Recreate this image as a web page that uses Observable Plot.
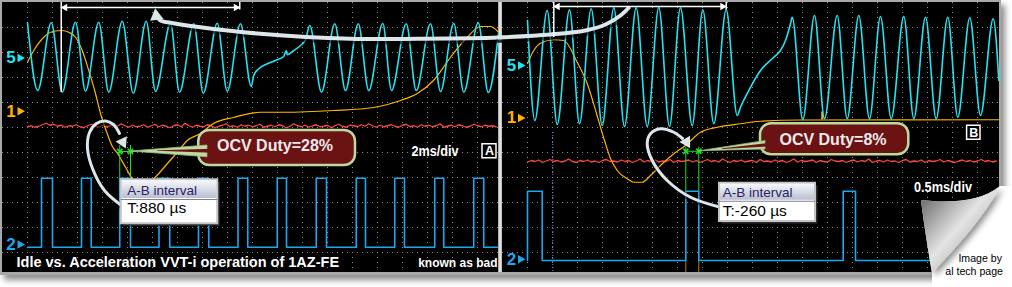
<!DOCTYPE html>
<html><head><meta charset="utf-8">
<script src="https://cdn.jsdelivr.net/npm/d3@7"></script>
<script src="https://cdn.jsdelivr.net/npm/@observablehq/plot@0.6"></script>
<style>
html,body{margin:0;padding:0;background:#fff;}
#fig{position:relative;width:1012px;height:287px;overflow:hidden;background:#fff;}
#frame{position:absolute;left:0;top:0;width:1001px;height:275px;background:#a8a8a8;box-shadow:4px 5px 6px rgba(0,0,0,0.45);}
#divider{position:absolute;left:498px;top:2px;width:4px;height:270px;background:linear-gradient(to right,#9c9c9c,#f2f2f2 50%,#b0b0b0);}
#pA{position:absolute;left:2px;top:2px;width:496px;height:270px;z-index:1;}
#pB{position:absolute;left:502px;top:2px;width:497px;height:270px;z-index:2;}
#curl{position:absolute;left:0;top:0;z-index:3;pointer-events:none;}
</style></head>
<body>
<div id="fig">
<div id="frame"></div><div id="divider"></div>
<div id="pA"></div><div id="pB"></div>
<svg id="curl" width="1012" height="287" viewBox="0 0 1012 287">
 <defs>
  <linearGradient id="curlG" x1="921" y1="200" x2="990" y2="260" gradientUnits="userSpaceOnUse">
   <stop offset="0" stop-color="#6e6e6e"/><stop offset="0.5" stop-color="#e4e4e4"/><stop offset="1" stop-color="#9a9a9a"/>
  </linearGradient>
  <filter id="cs" x="-20%" y="-20%" width="160%" height="160%"><feDropShadow dx="3" dy="3" stdDeviation="3" flood-opacity="0.45"/></filter>
 </defs>
 <path d="M921,200 C945,203 980,203 1000,186 L1012,186 L1012,287 L932,287 L932,273 C929,255 924,225 921,200 Z" fill="#fff"/>
 <path d="M921,200 C945,203 980,203 1000,186 C988,212 958,246 932,273 C929,255 924,225 921,200 Z" fill="url(#curlG)" filter="url(#cs)"/>
 <text x="1002" y="261.5" text-anchor="end" font-family="Arial, 'Liberation Sans', sans-serif" font-size="10.6" fill="#000">Image by</text>
 <text x="1003" y="274.5" text-anchor="end" font-family="Arial, 'Liberation Sans', sans-serif" font-size="10.6" fill="#000">al tech page</text>
</svg>
</div>
<script>
// ===== DATA (time in ms, level in scope grid divisions) =====
// Panel A : 2 ms/div
const cyanA = [[0,9.19],[0.82,6.48],[1.90,9.19],[2.78,6.41],[3.84,9.21],[4.64,6.45],[5.70,9.21],[6.50,6.41],[7.58,9.25],[8.46,6.37],[9.50,9.25],[10.24,6.44],[11.44,9.15],[12.16,6.41],[13.30,9.15],[14.06,6.37],[15.18,9.17],[15.98,6.45],[17.04,9.15],[17.90,6.64],[18.10,7.08],[18.50,7.35],[19.18,7.55],[19.84,7.68],[20.50,7.84],[20.70,8.08],[20.78,7.91],[21.30,8.08],[21.84,8.28],[22.24,8.51],[22.58,9.08],[23.52,6.41],[24.58,9.15],[25.44,6.48],[26.46,9.15],[27.30,6.48],[28.42,9.16],[29.12,6.48],[30.30,9.15],[31.10,6.48],[32.24,9.15],[33.04,6.44],[34.10,9.16],[34.90,6.41],[36.06,9.19],[36.86,6.40],[37.68,8.75]];
const yellowA = [[0,7.61],[0.50,8.08],[1.30,8.61],[2.10,8.85],[2.78,8.88],[3.30,8.81],[3.84,8.61],[4.38,8.08],[4.90,7.28],[5.44,6.36],[5.84,5.56],[6.38,4.76],[6.78,4.25],[7.18,3.98],[7.84,3.41],[8.38,2.95],[9.20,2.60],[10.10,2.95],[11.18,3.55],[12.10,4.08],[12.78,4.48],[13.84,4.76],[14.88,5.16],[16.48,5.40],[18.64,5.61],[20.48,5.61],[24.48,5.68],[27.68,5.80],[29.84,6.08],[31.18,6.36],[32.48,6.88],[33.84,7.81],[35.18,8.61],[36.24,9.04],[37.04,9.04],[37.68,8.81]];
const redAStep = 0.3;
const redA = [5.03,5.07,5.01,5.05,5.11,5.17,5.09,5.13,5.05,5.09,5.01,5.07,5.05,5.11,
5.03,4.99,5.07,5.13,5.05,5.01,5.09,5.03,5.07,5.11,5.05,5.15,5.07,5.01,
5.09,5.03,5.05,5.11,5.01,5.07,5.13,5.03,5.09,5.05,4.99,5.07,5.11,5.03,
5.17,5.07,5.01,5.09,5.05,5.03,5.11,5.07,4.99,5.05,5.09,5.15,5.03,5.07,
5.01,5.11,5.05,5.09,5.03,5.07,5.13,5.01,5.05,5.09,5.03,5.11,5.07,4.99,
5.05,5.15,5.07,5.03,5.09,5.01,5.07,5.11,5.03,5.05,5.09,4.99,5.07,5.13,
5.05,5.01,5.09,5.07,5.03,5.11,5.05,5.15,5.07,5.01,5.09,5.03,5.07,5.11,
5.05,5.01,5.09,5.13,5.03,5.07,5.01,5.11,5.05,5.09,5.03,5.07,5.15,5.01,
5.05,5.09,5.03,5.11,5.07,5.01,5.05,5.13,5.07,5.03,5.09,5.05,5.07,5.03];
const blueRiseA = [1.12,4.32,7.38,10.52,13.68,16.84,19.98,23.10,26.30,29.38,32.58,35.70];
const blueFallA = [2.00,5.10,8.24,11.38,14.50,17.62,20.72,23.92,27.04,30.16,33.30,36.50];
const blueLevelsA = [0.21, 2.97];
const cursorA = [7.38, 8.24];

// Panel B : 0.5 ms/div
const cyanB = [[0,9.28],[0.146,5.28],[0.394,9.68],[0.594,5.12],[0.84,9.71],[1.04,5.15],[1.274,9.75],[1.494,5.08],[1.726,9.79],[1.94,5.04],[2.174,9.79],[2.394,5.04],[2.626,9.80],[2.84,5.04],[3.06,9.79],[3.294,5.08],[3.506,9.71],[3.726,5.15],[3.974,9.71],[4.194,5.48],[4.26,5.81],[4.426,6.48],[4.66,7.28],[4.926,7.81],[5.06,8.08],[5.16,8.48],[5.26,9.15],[5.294,9.41],[5.506,5.31],[5.74,9.48],[5.94,5.35],[6.194,9.48],[6.394,5.35],[6.626,9.48],[6.84,5.35],[7.06,9.44],[7.274,5.35],[7.526,9.44],[7.726,5.35],[7.96,9.41],[8.174,5.35],[8.406,9.41],[8.606,5.41],[8.846,9.39],[9.06,5.48],[9.314,9.35],[9.426,6.88]];
const yellowB = [[0,7.56],[0.126,8.08],[0.26,8.37],[0.526,8.51],[0.726,8.48],[0.994,7.61],[1.194,6.76],[1.38,5.56],[1.54,4.48],[1.66,3.76],[1.794,3.28],[1.994,2.95],[2.126,2.81],[2.294,2.81],[2.46,3.08],[2.66,3.48],[2.926,3.95],[3.16,4.28],[3.46,4.81],[3.794,5.01],[4.26,5.15],[4.66,5.25],[5.46,5.30],[9.44,5.31]];
const redBStep = 0.075;
const redB = [3.62,3.68,3.64,3.70,3.60,3.66,3.72,3.64,3.68,3.62,3.66,3.74,3.64,3.60,
3.68,3.64,3.70,3.62,3.66,3.60,3.68,3.72,3.64,3.66,3.62,3.70,3.64,3.68,
3.60,3.66,3.74,3.62,3.68,3.64,3.70,3.62,3.66,3.64,3.72,3.60,3.68,3.64,
3.66,3.70,3.62,3.68,3.60,3.66,3.72,3.64,3.68,3.62,3.74,3.66,3.60,3.68,
3.64,3.70,3.62,3.66,3.68,3.60,3.72,3.64,3.66,3.62,3.70,3.64,3.68,3.60,
3.66,3.74,3.62,3.68,3.64,3.66,3.70,3.60,3.68,3.64,3.62,3.72,3.66,3.64,
3.68,3.60,3.66,3.70,3.62,3.68,3.64,3.74,3.60,3.66,3.68,3.62,3.70,3.64,
3.66,3.60,3.68,3.72,3.62,3.66,3.64,3.70,3.60,3.68,3.64,3.66,3.72,3.62,
3.68,3.64,3.60,3.66,3.70,3.64,3.68,3.62,3.66,3.72,3.64,3.68,3.62,3.66];
const blueRiseB = [0.0, 3.166, 6.314];
const blueFallB = [0.294, 3.426, 6.56];
const blueLevelsB = [-0.32, 2.45];
const cursorB = [3.166, 3.426];
const triggerB = [0.506];

// labels
const chanNames = ["5", "1", "2"];
const chanLevelsA = [7.78, 5.65, 0.32];
const chanLevelsB = [7.48, 5.38, -0.27];
const dutyLabels = ["OCV Duty=28%", "OCV Duty=8%"];
const intervalLabels = ["T:880 \u00b5s", "T:-260 \u00b5s"];
const scaleLabels = ["2ms/div", "0.5ms/div"];
const panelLetters = ["A", "B"];
const titleText = "Idle vs. Acceleration VVT-i operation of 1AZ-FE";
const noteText = "known as bad";

// ===== STYLE =====
const FONT = "Arial, 'Liberation Sans', Helvetica, sans-serif";
const COL = {cyan:"#22e3f0", yel:"#ffb200", red:"#ff4646", blue:"#1ca7ee", green:"#22e022", grid:"#8e8e8e", arrow:"#dde6ea"};
const CHAN_COL = [COL.cyan, COL.yel, COL.blue];
const XY = {x: d => d[0], y: d => d[1]};
const gridV = [0,1,2,3,4,5,6,7,8,9];

function pulseTrace(rise, fall, lv, tEnd) {
  const pts = [[0, lv[0]]];
  rise.forEach((r, i) => pts.push([r, lv[0]], [r, lv[1]], [fall[i], lv[1]], [fall[i], lv[0]]));
  pts.push([tEnd, lv[0]]);
  return pts;
}
function chanMarks(xl, xa, levels) {
  const d = levels.map((v, i) => ({v, i}));
  return [
    Plot.text(d, {x: xl, y: "v", text: d => chanNames[d.i], fill: d => CHAN_COL[d.i], fontSize: 17, fontWeight: "bold"}),
    Plot.dot(d, {x: xa, y: "v", symbol: "triangle", rotate: 90, r: 3.2, fill: d => CHAN_COL[d.i]})
  ];
}
function abBox(b, gid) {
  const R = {x1: d => d.t[0], x2: d => d.t[1], y1: d => d.v[0], y2: d => d.v[1]};
  return [
    Plot.rect([b], {...R, fill: "#2e2e2e", dx: 2.5, dy: 2.5}),
    Plot.rect([b], {...R, fill: "#fff", stroke: "#c4c4c4", strokeWidth: 2}),
    Plot.rect([b], {x1: d => d.t[0], x2: d => d.t[1], y1: d => d.hdr, y2: d => d.v[1], inset: 1, fill: `url(#${gid})`}),
    Plot.ruleY([b], {x1: d => d.t[0], x2: d => d.t[1], y: d => d.hdr, stroke: "#7a8294"}),
    Plot.text([b], {x: d => d.tx, y: d => d.ty[0], text: () => "A-B interval", textAnchor: "start", fill: "#2b2168", fontSize: 13.5}),
    Plot.text([b], {x: d => d.tx, y: d => d.ty[1], text: d => d.label, textAnchor: "start", fill: "#000", fontSize: 15.5})
  ];
}
function callout(c) {
  return [
    Plot.rect([c], {x1: d => d.t[0], x2: d => d.t[1], y1: d => d.v[0], y2: d => d.v[1], rx: 11, fill: "#6b1313", stroke: "#bcd99e", strokeWidth: 2.5}),
    Plot.areaY(c.wedge, {x: d => d[0], y1: d => d[1], y2: d => d[2], fill: "#bedaa2", stroke: "#93b877", strokeWidth: 0.8}),
    Plot.areaY(c.inner, {x: d => d[0], y1: d => d[1], y2: d => d[2], fill: "#6b1313"}),
    Plot.text([c], {x: d => d.tx, y: d => d.ty, text: d => d.label, fill: "#ebe9ee", fontSize: 16, fontWeight: "bold"})
  ];
}
function arrowLine(pts, w) {
  return [
    Plot.line(pts, {...XY, curve: "catmull-rom", stroke: "#000", strokeOpacity: 0.55, strokeWidth: w + 2.5, dx: 1.5, dy: 2}),
    Plot.line(pts, {...XY, curve: "catmull-rom", stroke: COL.arrow, strokeWidth: w})
  ];
}
function bracket(b) {
  return [
    Plot.ruleY([b.v], {x1: b.t[0], x2: b.t[1], stroke: "#fff", strokeWidth: 1.5}),
    Plot.ruleX([b.t[0]], {y1: 10, y2: b.drop[0], stroke: "#fff", strokeWidth: 1.5}),
    Plot.ruleX([b.t[1]], {y1: 10, y2: b.drop[1], stroke: "#fff", strokeWidth: 1.5}),
    Plot.dot(b.heads, {x: d => d[0], y: b.v, rotate: d => d[1], symbol: "triangle", r: 2.8, fill: "#fff"})
  ];
}
function addDefs(svg, gid) {
  const defs = d3.select(svg).insert("defs", ":first-child");
  const g = defs.append("linearGradient").attr("id", gid).attr("x1", 0).attr("y1", 0).attr("x2", 0).attr("y2", 1);
  g.append("stop").attr("offset", 0).attr("stop-color", "#f7f8fc");
  g.append("stop").attr("offset", 1).attr("stop-color", "#b9bfd0");
}
function fitText(svg, txt, len) {
  d3.select(svg).selectAll("text").filter(function() { return this.textContent === txt; })
    .attr("textLength", len).attr("lengthAdjust", "spacingAndGlyphs");
}
const base = {height: 270, margin: 0, y: {domain: [-0.8, 10], axis: null}, color: {type: "identity"},
  style: {background: "#000", overflow: "visible", fontFamily: FONT}};

// ===== PANEL A =====
const svgA = Plot.plot({
  ...base, width: 496,
  x: {domain: [-2, 37.68], axis: null},
  marks: [
    Plot.ruleX(d3.range(0, 37, 2), {stroke: COL.grid, strokeDasharray: "1 4"}),
    Plot.ruleY(gridV, {stroke: COL.grid, strokeDasharray: "1 4"}),
    Plot.line(redA.map((v, i) => [i * redAStep, v]), {...XY, stroke: COL.red, strokeWidth: 1.3}),
    Plot.line(yellowA, {...XY, stroke: COL.yel, strokeWidth: 1.2, curve: "monotone-x"}),
    Plot.line(cyanA, {...XY, stroke: COL.cyan, strokeWidth: 1.6, curve: "monotone-x"}),
    Plot.ruleX(cursorA, {y1: 4.28, y2: 2.97, stroke: COL.green}),
    Plot.ruleY([4.04], {x1: cursorA[0], x2: 8.8, stroke: COL.green}),
    Plot.dot(cursorA, {x: d => d, y: 4.04, symbol: "times", r: 2.5, stroke: COL.green}),
    Plot.line(pulseTrace(blueRiseA, blueFallA, blueLevelsA, 37.6), {...XY, stroke: COL.blue, strokeWidth: 1.6}),
    ...chanMarks(-1.32, -0.6, chanLevelsA),
    ...arrowLine([[7.52,1.88],[6.16,2.48],[5.2,3.36],[4.8,4.16],[4.96,4.8],[5.52,5.16],[6.24,5.26],[6.88,5.12],[7.36,4.76]], 3),
    Plot.dot([[7.62,4.42]], {...XY, symbol: "triangle", r: 4.6, rotate: 155, fill: COL.arrow}),
    ...abBox({t: [7.5, 15.22], v: [1.15, 2.91], hdr: 2.12, tx: 7.98, ty: [2.48, 1.76], label: intervalLabels[0]}, "hdrA"),
    ...callout({t: [13.7, 26.24], v: [3.48, 4.88], tx: 19.8, ty: 4.26, label: dutyLabels[0],
      wedge: [[8.24, 4.04, 4.04], [14.4, 3.81, 4.28]], inner: [[10.4, 4.05, 4.07], [14.8, 3.97, 4.13]]}),
    ...arrowLine([[10.40,9.40],[10.64,9.28],[11.68,9.17],[13.84,9.01],[18.64,8.75],[25.84,8.55],[31.2,8.55],[37.68,8.6],[41.84,8.72]], 4),
    Plot.dot([[10.3,9.46]], {...XY, symbol: "triangle", r: 5, rotate: -8, fill: COL.arrow}),
    ...bracket({t: [2.7, 16.98], v: 9.8, drop: [6.4, 9.7], heads: [[3.0, -90], [16.68, 90]]}),
    Plot.text([scaleLabels[0]], {x: 32.6, y: 4.04, text: d => d, fill: "#fff", fontSize: 14, fontWeight: "bold"}),
    Plot.rect([0], {x1: 36.4, x2: 37.52, y1: 3.77, y2: 4.33, fill: "#000", stroke: "#fff", strokeWidth: 1.5}),
    Plot.text([panelLetters[0]], {x: 36.96, y: 4.05, text: d => d, fill: "#fff", fontSize: 12.5, fontWeight: "bold"}),
    Plot.text([titleText], {x: -0.88, y: -0.39, text: d => d, textAnchor: "start", fill: "#fff", fontSize: 14.5, fontWeight: "bold"}),
    Plot.text([noteText], {x: 37.6, y: -0.43, text: d => d, textAnchor: "end", fill: "#fff", fontSize: 12, fontWeight: "bold"})
  ]
});
addDefs(svgA, "hdrA");
fitText(svgA, scaleLabels[0], 47);
document.getElementById("pA").append(svgA);

// ===== PANEL B =====
const svgB = Plot.plot({
  ...base, width: 497,
  x: {domain: [-0.5, 9.44], axis: null},
  marks: [
    Plot.ruleX(d3.range(0, 9.4, 0.5), {stroke: COL.grid, strokeDasharray: "1 4"}),
    Plot.ruleY(gridV, {stroke: COL.grid, strokeDasharray: "1 4"}),
    Plot.ruleX(triggerB, {y1: 4.8, y2: -0.8, stroke: "#7878ff", strokeDasharray: "1 2"}),
    Plot.line(redB.map((v, i) => [i * redBStep, v]), {...XY, stroke: COL.red, strokeWidth: 1.3}),
    Plot.line(yellowB, {...XY, stroke: COL.yel, strokeWidth: 1.2, curve: "monotone-x"}),
    Plot.ruleX([5.894], {y1: 5.31, y2: 5.62, stroke: COL.yel, strokeWidth: 2}),
    Plot.line(cyanB, {...XY, stroke: COL.cyan, strokeWidth: 1.6, curve: "monotone-x"}),
    Plot.ruleX(cursorB, {y1: 4.21, y2: 2.45, stroke: COL.green}),
    Plot.ruleX(cursorB, {y1: -0.32, y2: -0.8, stroke: "#a88a00"}),
    Plot.ruleY([4.05], {x1: cursorB[0], x2: 3.5, stroke: COL.green}),
    Plot.dot(cursorB, {x: d => d, y: 4.05, symbol: "times", r: 2.5, stroke: COL.green}),
    Plot.line(pulseTrace(blueRiseB, blueFallB, blueLevelsB, 9.44), {...XY, stroke: COL.blue, strokeWidth: 1.6}),
    ...chanMarks(-0.32, -0.14, chanLevelsB),
    ...arrowLine([[3.86,1.81],[3.26,2.21],[2.794,2.88],[2.494,3.68],[2.394,4.35],[2.46,4.75],[2.66,4.95],[2.926,4.81],[3.1,4.56]], 3),
    Plot.dot([[3.18,4.42]], {...XY, symbol: "triangle", r: 4.6, rotate: 150, fill: COL.arrow}),
    ...abBox({t: [3.84, 5.76], v: [1.24, 2.77], hdr: 2.05, tx: 3.906, ty: [2.39, 1.66], label: intervalLabels[1]}, "hdrB"),
    ...callout({t: [4.66, 7.626], v: [3.91, 5.15], tx: 6.11, ty: 4.51, label: dutyLabels[1],
      wedge: [[3.44, 4.05, 4.05], [4.76, 4.12, 4.46]], inner: [[3.9, 4.12, 4.15], [4.82, 4.22, 4.36]]}),
    ...arrowLine([[-0.58,8.6],[0.46,8.72],[1.16,8.88],[1.56,9.12],[1.86,9.48],[2.02,9.78]], 4),
    ...bracket({t: [0.526, 3.974], v: 9.84, drop: [8.6, 9.7], heads: [[0.6, -90], [3.9, 90]]}),
    Plot.text([scaleLabels[1]], {x: 8.31, y: 2.61, text: d => d, fill: "#fff", fontSize: 14, fontWeight: "bold"}),
    Plot.rect([0], {x1: 8.792, x2: 9.06, y1: 4.51, y2: 5.07, fill: "#000", stroke: "#fff", strokeWidth: 1.5}),
    Plot.text([panelLetters[1]], {x: 8.926, y: 4.79, text: d => d, fill: "#fff", fontSize: 12.5, fontWeight: "bold"})
  ]
});
addDefs(svgB, "hdrB");
fitText(svgB, scaleLabels[1], 58);
document.getElementById("pB").append(svgB);
</script>
</body></html>
